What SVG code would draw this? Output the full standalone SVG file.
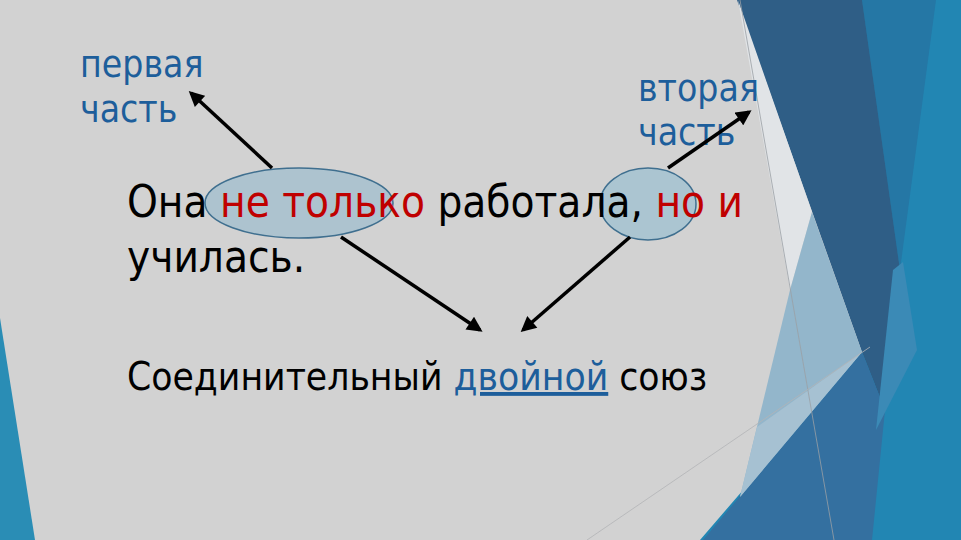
<svg xmlns="http://www.w3.org/2000/svg" width="961" height="540" viewBox="0 0 961 540">
  <defs>
    <style>
      .t { font-family: "DejaVu Sans Condensed", "DejaVu Sans", "Liberation Sans", sans-serif; font-stretch: condensed; }
      .main { font-size: 43.6px; fill: #000; }
      .red { fill: #c00000; }
      .lbl { font-size: 37px; fill: #1d5e9b; }
      .sub { font-size: 38.6px; fill: #000; }
      .link { fill: #1d5e9b; text-decoration: underline; }
      .oval { stroke: #3f6f8f; stroke-width: 1.5; }
      .arrow { stroke: #000; stroke-width: 3.5; fill: none; marker-end: url(#ah); }
    </style>
    <marker id="ah" viewBox="0 0 10 10" refX="8" refY="5" markerWidth="4.6" markerHeight="4.4" markerUnits="strokeWidth" orient="auto">
      <path d="M0,0 L10,5 L0,10 z" fill="#000"/>
    </marker>
  </defs>

  <!-- background -->
  <rect x="0" y="0" width="961" height="540" fill="#d2d2d2"/>
  <g id="decor">
    <polygon points="0,318 0,540 35,540" fill="#2a8db5"/>
    <polygon points="850,0 961,0 961,540 700,540 862,352" fill="#2286b3"/>
    <polygon points="862,0 936,0 900,270" fill="#2577a5"/>
    <polygon points="737,0 862,0 900,270 885,410 862,352" fill="#2f5e86"/>
    <polygon points="862,352 885,410 872,540 703,540" fill="#3470a0"/>
    <polygon points="893,270 903,262 917,350 876,430" fill="#3b8ab6"/>
    <polygon points="738,0 812,212 790,290" fill="#e1e4e7"/>
    <polygon points="812,212 862,352 740,497 790,290" fill="#93b6cb"/>
    <polygon points="757,427 862,352 740,497" fill="#a6c1d2"/>
    <line x1="740" y1="0" x2="834" y2="540" stroke="#9a9fa4" stroke-width="0.8"/>
    <line x1="587" y1="540" x2="870" y2="347" stroke="#b2b4b6" stroke-width="0.8"/>
  </g>

  <!-- ovals -->
  <g id="oval1">
    <ellipse class="oval" cx="299" cy="203" rx="94" ry="35" fill="#adc3cf"/>
  </g>
  <g id="oval2">
    <ellipse class="oval" cx="648" cy="204" rx="48" ry="36" fill="#abc5d1"/>
  </g>

  <!-- sentence -->
  <g id="sentence">
    <text class="t main" x="127" y="217">Она <tspan class="red">не только</tspan> работала, <tspan class="red">но и</tspan></text>
    <text class="t main" x="127" y="272">училась.</text>
  </g>

  <g id="label-first">
    <text class="t lbl" x="80" y="77">первая</text>
    <text class="t lbl" x="80" y="122">часть</text>
  </g>
  <g id="label-second">
    <text class="t lbl" x="638" y="101">вторая</text>
    <text class="t lbl" x="638" y="145">часть</text>
  </g>

  <g id="conclusion">
    <text class="t sub" x="127" y="390">Соединительный <tspan class="link">двойной</tspan> союз</text>
  </g>

  <!-- connectors -->
  <g id="connectors">
    <line class="arrow" x1="272" y1="168" x2="191" y2="93"/>
    <line class="arrow" x1="341" y1="237" x2="480" y2="330"/>
    <line class="arrow" x1="630" y1="237" x2="523" y2="330"/>
    <line class="arrow" x1="668" y1="168" x2="749" y2="112"/>
  </g>
</svg>
